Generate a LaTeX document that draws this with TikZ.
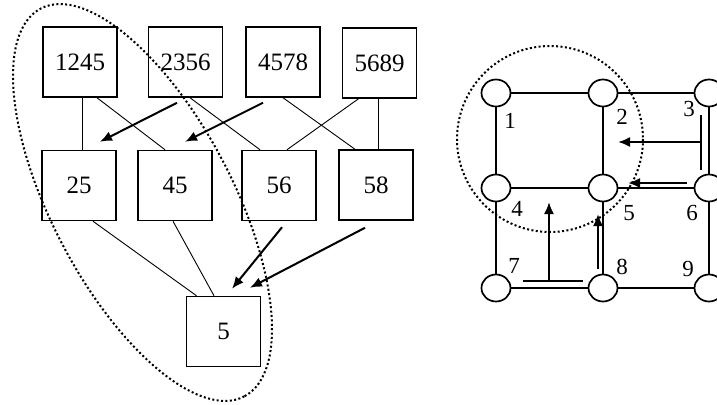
\documentclass[tikz,border=0pt]{standalone}
\usepackage{fontspec}
\setmainfont{Liberation Serif}
\usetikzlibrary{positioning,calc,shapes.geometric,arrows.meta}

\begin{document}
\begin{tikzpicture}[x=1pt,y=-1pt]
    \tikzstyle{sbox}=[draw=black,line width=1.5pt,minimum width=74pt,minimum height=70pt,
                      inner sep=0pt,font=\fontsize{25}{25}\selectfont]
    \tikzstyle{link}=[line width=0.9pt]
    \tikzstyle{push}=[line width=2pt,-{Latex[length=12pt,width=10pt]}]
    \tikzstyle{site}=[ellipse,draw=black,fill=white,line width=1.7pt,minimum width=29pt,
                      minimum height=27pt,inner sep=0pt]
    \tikzstyle{edge}=[line width=1.7pt]
    \tikzstyle{num}=[inner sep=0pt,font=\fontsize{23}{23}\selectfont]
    \tikzstyle{ring}=[line width=2pt,dash pattern=on 2pt off 2.4pt]
    \useasboundingbox (0,0) rectangle (717,404);
    % top row
    \node[sbox] (b1245) at (80,62) {1245};
    \node[sbox] (b2356) at (185.5,62) {2356};
    \node[sbox] (b4578) at (283,62) {4578};
    \node[sbox] (b5689) at (379.5,63) {5689};
    % middle row
    \node[sbox] (b25) at (79,185.5) {25};
    \node[sbox] (b45) at (175,185.5) {45};
    \node[sbox] (b56) at (279,185.5) {56};
    \node[sbox] (b58) at (376,185) {58};
    % bottom
    \node[sbox] (b5) at (223.5,331.5) {5};
    % links
    \draw[link] ([xshift=2pt]b1245.south) -- ([xshift=3pt]b25.north);
    \draw[link] ([xshift=17pt]b1245.south) -- ([xshift=-10pt]b45.north);
    \draw[link] ([xshift=4.5pt]b2356.south) -- ([xshift=-19pt]b56.north);
    \draw[link] (b4578.south) -- ([xshift=-21pt]b58.north);
    \draw[link] ([xshift=-21pt]b5689.south) -- ([xshift=8pt]b56.north);
    \draw[link] ([xshift=-1.5pt]b5689.south) -- ([xshift=2pt]b58.north);
    \draw[link] ([xshift=14pt]b25.south) -- ([xshift=-27pt]b5.north);
    \draw[link] ([xshift=-2pt]b45.south) -- ([xshift=-9.5pt]b5.north);
    % arrows
    \draw[push] ($(b2356.south)+(-8.5,5)$) -- ($(b25.north)+(21,-8)$);
    \draw[push] ($(b4578.south)+(-20,5)$) -- ($(b45.north)+(10,-8)$);
    \draw[push] ($(b56.south)+(3,6)$) -- ($(b5.north)+(8.5,-7)$);
    \draw[push] ($(b58.south)+(-11,7)$) -- ($(b5.north)+(26.5,-8)$);
    % cluster
    \draw[ring,rotate around={-62.3:(142.5,202.5)}] (142.5,202.5) ellipse [x radius=219, y radius=90.4];
    \draw[ring] (550,139) circle [radius=93];
    % grid
    \node[site] (s1) at (496,93) {};
    \node[site] (s2) at (603,93) {};
    \node[site] (s3) at (709,93) {};
    \node[site] (s4) at (496,188) {};
    \node[site] (s5) at (603,188) {};
    \node[site] (s6) at (709,188) {};
    \node[site] (s7) at (496,288) {};
    \node[site] (s8) at (603,288) {};
    \node[site] (s9) at (709,288) {};
    \draw[edge] (s1) -- (s2);
    \draw[edge] (s2) -- (s3);
    \draw[edge] (s4) -- (s5);
    \draw[edge] (s5) -- (s6);
    \draw[edge] (s7) -- (s8);
    \draw[edge] (s8) -- (s9);
    \draw[edge] (s1) -- (s4);
    \draw[edge] (s4) -- (s7);
    \draw[edge] (s2) -- (s5);
    \draw[edge] (s5) -- (s8);
    \draw[edge] (s3) -- (s6);
    \draw[edge] (s6) -- (s9);
    % labels
    \node[num] (l1) at (510,121) {1};
    \node[num] (l2) at (622,117) {2};
    \node[num] (l3) at (689,109) {3};
    \node[num] (l4) at (517,209) {4};
    \node[num] (l5) at (629,213) {5};
    \node[num] (l6) at (692,213) {6};
    \node[num] (l7) at (514,266) {7};
    \node[num] (l8) at (622,267) {8};
    \node[num] (l9) at (688,269) {9};
    % moves
    \coordinate (m36) at ($(s3)!0.5!(s6)+(-8,1.5)$);
    \coordinate (m78) at ($(s7)!0.5!(s8)+(-0.5,-7)$);
    \draw[edge] ($(s3)+(-8,22)$) -- ($(s6)+(-8,-18)$);
    \draw[push] (m36) -- ($(m36)+(-83,0)$);
    \draw[push] ($(s6)+(-22,-5)$) -- ($(s5)+(25,-5)$);
    \draw[edge] ($(s7)+(27,-7)$) -- ($(s8)+(-20,-7)$);
    \draw[push] (m78) -- ($(m78)+(0,-79)$);
    \draw[push] ($(s8)+(-5,-19)$) -- ($(s5)+(-5,26)$);
\end{tikzpicture}
\end{document}
